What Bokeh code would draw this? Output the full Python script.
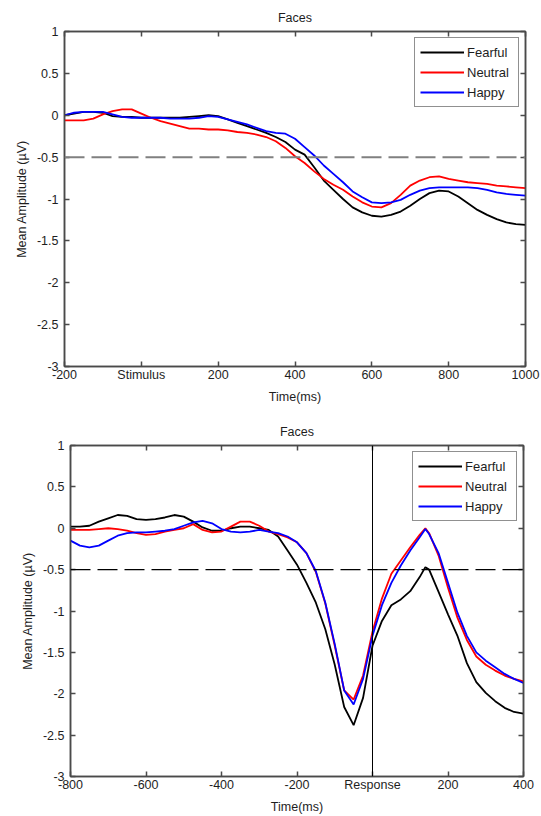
from bokeh.plotting import figure
from bokeh.models import LinearAxis, FixedTicker, Span, CustomJSTickFormatter, Range1d, ColumnDataSource
from bokeh.embed import file_html
from bokeh.resources import INLINE

FONT = "Liberation Sans"

# ---------------- data ----------------
series_names = ["Fearful", "Neutral", "Happy"]
series_colors = ["#000000", "#ff0000", "#0000ff"]

y_ticks = [-3, -2.5, -2, -1.5, -1, -0.5, 0, 0.5, 1]
y_tick_labels = ["-3", "-2.5", "-2", "-1.5", "-1", "-0.5", "0", "0.5", "1"]

# Top panel: stimulus-locked
top_x_ticks = [-200, 0, 200, 400, 600, 800, 1000]
top_x_tick_labels = ["-200", "Stimulus", "200", "400", "600", "800", "1000"]
t_top = [-200, -175, -150, -125, -100, -75, -50, -25, 0, 25, 50, 75, 100, 125, 150, 175,
         200, 225, 250, 275, 300, 325, 350, 375, 400, 425, 450, 475, 500, 525, 550, 575,
         600, 625, 650, 675, 700, 725, 750, 775, 800, 825, 850, 875, 900, 925, 950, 975, 1000]
fearful_top = [0.00, 0.02, 0.04, 0.04, 0.03, -0.01, -0.02, -0.02, -0.03, -0.03, -0.03, -0.03,
               -0.03, -0.02, -0.01, 0.00, -0.01, -0.05, -0.09, -0.13, -0.17, -0.21, -0.26, -0.32,
               -0.41, -0.47, -0.62, -0.78, -0.89, -1.00, -1.10, -1.16, -1.20, -1.21, -1.19, -1.15,
               -1.08, -1.00, -0.93, -0.90, -0.91, -0.97, -1.05, -1.13, -1.19, -1.24, -1.28, -1.30, -1.31]
neutral_top = [-0.06, -0.06, -0.06, -0.04, 0.01, 0.05, 0.07, 0.07, 0.02, -0.03, -0.07, -0.10,
               -0.13, -0.16, -0.16, -0.17, -0.17, -0.18, -0.20, -0.21, -0.23, -0.26, -0.31, -0.39,
               -0.49, -0.57, -0.67, -0.76, -0.83, -0.89, -0.97, -1.04, -1.09, -1.10, -1.05, -0.95,
               -0.84, -0.78, -0.74, -0.73, -0.76, -0.78, -0.80, -0.81, -0.82, -0.84, -0.85, -0.86, -0.87]
happy_top = [0.00, 0.03, 0.04, 0.04, 0.04, 0.01, -0.02, -0.03, -0.03, -0.03, -0.03, -0.04,
             -0.04, -0.04, -0.03, -0.01, -0.02, -0.05, -0.08, -0.11, -0.15, -0.19, -0.21, -0.22,
             -0.28, -0.38, -0.48, -0.60, -0.70, -0.80, -0.91, -0.98, -1.04, -1.05, -1.04, -1.01,
             -0.95, -0.90, -0.87, -0.86, -0.86, -0.86, -0.86, -0.87, -0.89, -0.92, -0.94, -0.95, -0.96]

# Bottom panel: response-locked
bot_x_ticks = [-800, -600, -400, -200, 0, 200, 400]
bot_x_tick_labels = ["-800", "-600", "-400", "-200", "Response", "200", "400"]
t_bot = [-800, -775, -750, -725, -700, -675, -650, -625, -600, -575, -550, -525, -500, -475,
         -450, -425, -400, -375, -350, -325, -300, -275, -250, -225, -200, -175, -150, -125,
         -100, -75, -50, -25, 0, 25, 50, 75, 100, 125, 140, 150, 175, 200, 225, 250, 275, 300,
         325, 350, 375, 400]
fearful_bot = [0.02, 0.02, 0.03, 0.08, 0.12, 0.16, 0.15, 0.11, 0.10, 0.11, 0.13, 0.16, 0.14, 0.08,
               0.01, -0.03, -0.03, 0.00, 0.02, 0.02, 0.00, -0.02, -0.10, -0.27, -0.44, -0.66, -0.90,
               -1.22, -1.65, -2.16, -2.38, -2.05, -1.42, -1.12, -0.93, -0.86, -0.76, -0.59, -0.47,
               -0.50, -0.77, -1.04, -1.30, -1.63, -1.86, -1.99, -2.09, -2.17, -2.22, -2.24]
neutral_bot = [-0.02, -0.02, -0.02, -0.01, 0.00, -0.01, -0.03, -0.06, -0.08, -0.07, -0.04, -0.02,
               0.00, 0.05, -0.02, -0.05, -0.04, 0.02, 0.08, 0.08, 0.03, -0.04, -0.07, -0.11, -0.17,
               -0.30, -0.53, -0.91, -1.42, -1.96, -2.07, -1.78, -1.25, -0.85, -0.55, -0.39, -0.23,
               -0.08, 0.00, -0.06, -0.33, -0.72, -1.08, -1.35, -1.55, -1.65, -1.72, -1.78, -1.82, -1.85]
happy_bot = [-0.15, -0.21, -0.23, -0.21, -0.15, -0.09, -0.06, -0.05, -0.05, -0.04, -0.03, -0.01,
             0.03, 0.07, 0.09, 0.06, -0.01, -0.04, -0.05, -0.04, -0.02, -0.04, -0.06, -0.10, -0.17,
             -0.30, -0.52, -0.90, -1.40, -1.96, -2.13, -1.82, -1.30, -0.93, -0.66, -0.45, -0.27,
             -0.11, -0.01, -0.07, -0.30, -0.66, -1.02, -1.30, -1.50, -1.60, -1.68, -1.76, -1.82, -1.87]

threshold = -0.5
response_time = 0

AXIS_COLOR = "#4a4a4a"
TEXT_COLOR = "#1e1e1e"


def style_axis(ax, labels=True):
    ax.axis_line_color = AXIS_COLOR
    ax.axis_line_width = 1.5
    ax.major_tick_line_color = AXIS_COLOR
    ax.major_tick_line_width = 1.5
    ax.major_tick_in = 5
    ax.major_tick_out = 0
    ax.minor_tick_line_color = None
    ax.major_label_text_font = FONT
    ax.major_label_text_font_size = "12.5px"
    ax.major_label_text_color = TEXT_COLOR
    ax.axis_label_text_font = FONT
    ax.axis_label_text_font_size = "12.5px"
    ax.axis_label_text_font_style = "normal"
    ax.axis_label_text_color = TEXT_COLOR
    if not labels:
        ax.formatter = CustomJSTickFormatter(code="return ''")
        ax.major_label_standoff = 0
        ax.major_label_text_font_size = "1px"


def make_panel(t, ys, x_range, x_ticks, x_tick_labels, height, mb, dash_color, dash_width, vline):
    p = figure(width=541, height=height, x_range=Range1d(*x_range), y_range=Range1d(-3, 1),
               output_backend="svg", toolbar_location=None,
               min_border_left=mb[0], min_border_right=mb[1], min_border_top=mb[2], min_border_bottom=mb[3])
    p.grid.visible = False
    p.outline_line_color = AXIS_COLOR
    p.outline_line_width = 1.5
    p.background_fill_color = "white"
    p.border_fill_color = "white"

    p.title.text = "Faces"
    p.title.align = "center"
    p.title.text_font = FONT
    p.title.text_font_size = "12.5px"
    p.title.text_font_style = "normal"
    p.title.text_color = TEXT_COLOR
    p.title.standoff = 13

    p.xaxis.ticker = FixedTicker(ticks=x_ticks)
    p.xaxis.major_label_overrides = {k: v for k, v in zip(x_ticks, x_tick_labels)}
    p.xaxis.axis_label = "Time(ms)"
    p.xaxis.major_label_standoff = 1
    p.xaxis.axis_label_standoff = 5
    p.yaxis.ticker = FixedTicker(ticks=y_ticks)
    p.yaxis.major_label_overrides = {k: v for k, v in zip(y_ticks, y_tick_labels)}
    p.yaxis.axis_label = "Mean Amplitude (\u00b5V)"
    p.yaxis.major_label_standoff = 6
    p.yaxis.axis_label_standoff = 5
    style_axis(p.xaxis[0])
    style_axis(p.yaxis[0])

    top_ax = LinearAxis(ticker=FixedTicker(ticks=x_ticks))
    style_axis(top_ax, labels=False)
    p.add_layout(top_ax, "above")
    right_ax = LinearAxis(ticker=FixedTicker(ticks=y_ticks))
    style_axis(right_ax, labels=False)
    p.add_layout(right_ax, "right")

    p.add_layout(Span(location=threshold, dimension="width", line_color=dash_color,
                      line_width=dash_width, line_dash="20 7"))
    if vline:
        p.add_layout(Span(location=response_time, dimension="height", line_color="black", line_width=1))

    src = ColumnDataSource(dict(t=t, f=ys[0], n=ys[1], h=ys[2]))
    for col, name, color in zip(["f", "n", "h"], series_names, series_colors):
        p.line("t", col, source=src, line_color=color, line_width=1.8, legend_label=name)

    lg = p.legend[0]
    lg.location = "top_right"
    lg.margin = 6
    lg.padding = 5
    lg.spacing = 2
    lg.glyph_width = 44
    lg.glyph_height = 18
    lg.label_height = 18
    lg.label_width = 46
    lg.label_standoff = 3
    lg.label_text_font = FONT
    lg.label_text_font_size = "13px"
    lg.label_text_color = TEXT_COLOR
    lg.border_line_color = "#222222"
    lg.border_line_width = 1
    lg.background_fill_alpha = 1
    return p


p_top = make_panel(t_top, [fearful_top, neutral_top, happy_top], (-200, 1000), top_x_ticks,
                   top_x_tick_labels, 406, (64, 16, 31, 37), "#808080", 2, False)
p_bot = make_panel(t_bot, [fearful_bot, neutral_bot, happy_bot], (-800, 400), bot_x_ticks,
                   bot_x_tick_labels, 410, (70, 18, 39, 38), "#000000", 1.3, True)

open("out.html", "w").write(file_html([p_top, p_bot], INLINE))
